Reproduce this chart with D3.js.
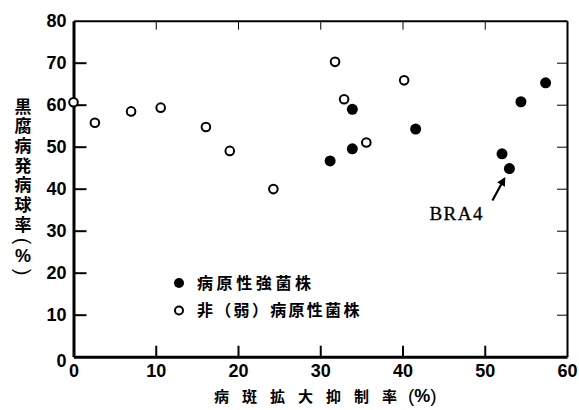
<!DOCTYPE html>
<html>
<head>
<meta charset="utf-8">
<script src="https://cdn.jsdelivr.net/npm/d3@7"></script>
<style>
  body { margin: 0; background: #fff; }
  svg { display: block; }
</style>
</head>
<body>
<div id="chart"></div>
<script>
// data
const strongX = [31.2, 33.9, 33.9, 41.6, 52.1, 53.0, 54.4, 57.4];
const strongY = [46.6, 58.9, 49.5, 54.2, 48.3, 44.8, 60.7, 65.2];
const weakX = [0, 2.6, 7.0, 10.6, 16.1, 19.0, 24.3, 31.8, 32.9, 35.6, 40.2];
const weakY = [60.6, 55.7, 58.4, 59.3, 54.7, 49.0, 39.9, 70.2, 61.3, 51.0, 65.8];
const xTicks = [0, 10, 20, 30, 40, 50, 60];
const yTicks = [0, 10, 20, 30, 40, 50, 60, 70, 80];
const legendLabels = ["病原性強菌株", "非（弱）病原性菌株"];
const yTitle = ["黒", "腐", "病", "発", "病", "球", "率"];
const xTitle = "病斑拡大抑制率";
const marked = { name: "BRA4", index: 5 };

const W = 579, H = 410;
const svg = d3.select("#chart").append("svg")
    .attr("width", W).attr("height", H);

let x = d3.scaleLinear().domain([0, 60]).range([73.5, 567]);
let y = d3.scaleLinear().domain([0, 80]).range([356.7, 20.7]);

const numFont = "'Liberation Sans', Arial, sans-serif";
const jpFont = "'Noto Sans CJK JP', sans-serif";

// frame: top and right (thin), ticks inward
svg.append("g")
    .attr("transform", `translate(0,${y(80)})`)
    .call(d3.axisTop(x).tickValues(xTicks.slice(1, -1)).tickSize(-9).tickSizeOuter(0).tickFormat(""))
    .call(g => g.select(".domain").attr("stroke-width", 2));

svg.append("g")
    .attr("transform", `translate(${x(60)},0)`)
    .call(d3.axisRight(y).tickValues(yTicks.slice(1, -1)).tickSize(-10).tickSizeOuter(0).tickFormat(""))
    .call(g => g.select(".domain").attr("stroke-width", 2));

// left & bottom axes (thick)
let yAxis = svg.append("g")
    .attr("transform", `translate(${x(0)},0)`)
    .call(d3.axisLeft(y).tickValues(yTicks).tickSize(-13).tickSizeOuter(0).tickPadding(7));

let xAxis = svg.append("g")
    .attr("transform", `translate(0,${y(0)})`)
    .call(d3.axisBottom(x).tickValues(xTicks).tickSize(-11).tickSizeOuter(0).tickPadding(8));

[xAxis, yAxis].forEach(g => {
    g.select(".domain").attr("stroke-width", 3).attr("stroke", "#000");
    g.selectAll(".tick line").attr("stroke-width", 2);
    g.selectAll("text")
        .attr("fill", "#000")
        .style("font-family", numFont)
        .style("font-weight", "bold")
        .style("font-size", "18px");
});
yAxis.selectAll(".tick").filter(d => d === 0).select("text").attr("dy", "0.55em");
xAxis.selectAll(".tick").filter(d => d === 0).select("line").remove();
xAxis.selectAll(".tick").filter(d => d === 60).select("line").remove();
yAxis.selectAll(".tick").filter(d => d === 0 || d === 80).select("line").remove();

// points
svg.append("g").selectAll("circle")
    .data(weakX.map((v, i) => [v, weakY[i]]))
    .join("circle")
    .attr("cx", d => x(d[0]))
    .attr("cy", d => y(d[1]))
    .attr("r", 4.3)
    .attr("fill", "#fff")
    .attr("stroke", "#000")
    .attr("stroke-width", 2);

svg.append("g").selectAll("circle")
    .data(strongX.map((v, i) => [v, strongY[i]]))
    .join("circle")
    .attr("cx", d => x(d[0]))
    .attr("cy", d => y(d[1]))
    .attr("r", 5.5)
    .attr("fill", "#000");

// BRA4 arrow + label
let px = x(strongX[marked.index]), py = y(strongY[marked.index]);
svg.append("defs").append("marker")
    .attr("id", "head")
    .attr("viewBox", "0 0 10 10")
    .attr("refX", 8).attr("refY", 5)
    .attr("markerWidth", 4).attr("markerHeight", 4)
    .attr("orient", "auto")
    .append("path").attr("d", "M0,0 L10,5 L0,10 z").attr("fill", "#000");

svg.append("line")
    .attr("x1", px - 17).attr("y1", py + 32)
    .attr("x2", px - 5).attr("y2", py + 10)
    .attr("stroke", "#000")
    .attr("stroke-width", 2.2)
    .attr("marker-end", "url(#head)");

svg.append("text")
    .attr("x", px - 80).attr("y", py + 51)
    .style("font-family", "'Liberation Serif', 'Times New Roman', serif")
    .style("font-size", "19px")
    .style("letter-spacing", "1.5px")
    .style("stroke", "#000")
    .style("stroke-width", 0.3)
    .text(marked.name);

// legend
let legend = svg.append("g").attr("transform", "translate(179,283)");
legend.append("circle").attr("r", 5).attr("fill", "#000");
legend.append("circle").attr("cy", 27.5).attr("r", 4).attr("fill", "#fff")
    .attr("stroke", "#000").attr("stroke-width", 2);
legend.selectAll("text")
    .data(legendLabels)
    .join("text")
    .attr("x", 18)
    .attr("y", (d, i) => i * 27.5)
    .attr("dy", "0.36em")
    .style("font-family", jpFont)
    .style("font-weight", "bold")
    .style("font-size", "16px")
    .style("letter-spacing", (d, i) => i ? "2.3px" : "3.6px")
    .text(d => d);

// y title, stacked vertically
let yt = svg.append("g")
    .style("font-family", jpFont)
    .style("font-weight", "bold")
    .style("font-size", "17px")
    .attr("text-anchor", "middle");
yTitle.forEach((c, i) => {
    yt.append("text").attr("x", 23).attr("y", 106.5 + i * 19.7).attr("dy", "0.36em").text(c);
});
yt.append("text").attr("transform", "translate(23,241) rotate(90)").attr("dy", "0.33em")
    .style("font-family", numFont).style("font-weight", "normal").style("font-size", "20px").text("(");
yt.append("text").attr("x", 23).attr("y", 256).attr("dy", "0.36em")
    .style("font-family", numFont).style("font-size", "18px").text("%");
yt.append("text").attr("transform", "translate(23,272) rotate(90)").attr("dy", "0.33em")
    .style("font-family", numFont).style("font-weight", "normal").style("font-size", "20px").text(")");

// x title
let xt = svg.append("text")
    .attr("x", 214).attr("y", 402)
    .style("font-family", jpFont)
    .style("font-weight", "bold")
    .style("font-size", "15px");
xt.append("tspan").style("letter-spacing", "13px").text(xTitle);
xt.append("tspan").attr("dx", -2).style("font-family", numFont).style("font-weight", "normal")
    .style("font-size", "19px").text("(");
xt.append("tspan").style("font-family", numFont).style("font-size", "18px").text("%");
xt.append("tspan").style("font-family", numFont).style("font-weight", "normal")
    .style("font-size", "19px").text(")");
</script>
</body>
</html>
